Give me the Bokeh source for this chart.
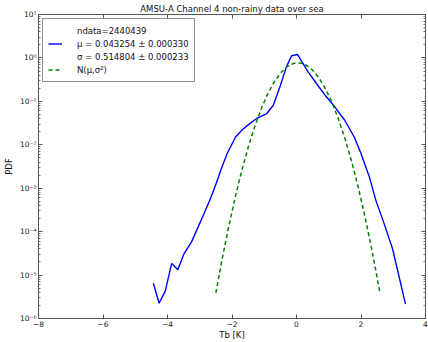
from bokeh.plotting import figure
from bokeh.models import (LogAxis, LinearAxis, FixedTicker, SingleIntervalTicker,
                          CustomJSTickFormatter, Legend, LegendItem, Title)
from bokeh.embed import file_html
from bokeh.resources import INLINE

# Observed histogram PDF (blue)
tb_obs = [-4.44, -4.26, -4.07, -3.87, -3.68, -3.49, -3.25, -2.87, -2.67, -2.51,
          -2.31, -2.15, -1.89, -1.69, -1.48, -1.23, -0.92, -0.72, -0.51, -0.31,
          -0.15, 0.03, 0.36, 0.67, 0.92, 1.18, 1.49, 1.79, 2.00, 2.26,
          2.46, 2.72, 2.98, 3.38]
pdf_obs = [6.46e-6, 2.24e-6, 4.27e-6, 1.86e-5, 1.32e-5, 3.09e-5, 5.89e-5, 2.57e-4, 5.75e-4, 1.17e-3,
           3.09e-3, 6.31e-3, 0.0151, 0.0219, 0.0295, 0.0407, 0.0525, 0.0813, 0.219, 0.631,
           1.12, 1.20, 0.479, 0.229, 0.129, 0.0759, 0.0372, 0.0151, 6.31e-3, 1.82e-3,
           5.25e-4, 1.51e-4, 3.98e-5, 2.14e-6]

# Fitted normal N(mu, sigma^2) (green dashed)
tb_fit = [-2.5, -2.3, -2.1, -1.9, -1.7, -1.5, -1.3, -1.1, -0.9, -0.7, -0.5, -0.3, -0.1,
          0.1, 0.3, 0.5, 0.7, 0.9, 1.1, 1.3, 1.5, 1.7, 1.9, 2.1, 2.3, 2.5, 2.58]
pdf_fit = [3.88e-6, 2.45e-5, 1.33e-4, 6.24e-4, 2.51e-3, 8.66e-3, 2.57e-2, 6.58e-2, 0.1445, 0.2733,
           0.4440, 0.6203, 0.7456, 0.7703, 0.6843, 0.5229, 0.3434, 0.1941, 0.0943, 0.03937,
           0.01414, 4.37e-3, 1.16e-3, 2.65e-4, 5.20e-5, 8.79e-6, 4.13e-6]

y_major = [1e-6, 1e-5, 1e-4, 1e-3, 1e-2, 1e-1, 1e0, 1e1]
y_minor = [m * 10.0 ** e for e in range(-6, 1) for m in range(2, 10)]

label_ndata = "ndata=2440439"
label_mu = "μ = 0.043254 ± 0.000330"
label_sigma = "σ = 0.514804 ± 0.000233"
label_norm = "N(μ,σ²)"

FONT = "DejaVu Sans"

p = figure(width=428, height=342, y_axis_type="log", x_range=(-8, 4), y_range=(1e-6, 10),
           output_backend="svg", toolbar_location=None,
           min_border_left=2, min_border_right=3, min_border_top=4, min_border_bottom=0)
p.background_fill_color = "white"
p.border_fill_color = "white"
p.outline_line_color = "#555555"
p.xgrid.visible = False
p.ygrid.visible = False

sup_code = """
const sup = {"-":"\u207b","0":"\u2070","1":"\u00b9","2":"\u00b2","3":"\u00b3","4":"\u2074",
             "5":"\u2075","6":"\u2076","7":"\u2077","8":"\u2078","9":"\u2079"};
const e = Math.round(Math.log10(tick));
return "10" + String(e).split("").map(c => sup[c]).join("");
"""

def style_axis(ax):
    ax.axis_line_color = "#555555"
    ax.major_tick_in = 4
    ax.major_tick_out = 0
    ax.minor_tick_in = 2
    ax.minor_tick_out = 0
    ax.major_tick_line_color = "#555555"
    ax.minor_tick_line_color = "#777777"
    ax.major_label_text_font = FONT
    ax.major_label_text_color = "#222222"
    ax.major_label_text_font_size = "7.5px"
    ax.major_label_standoff = 2
    ax.axis_label_text_font = FONT
    ax.axis_label_text_font_style = "normal"
    ax.axis_label_text_font_size = "8.5px"
    ax.axis_label_text_color = "#111111"

# bottom x axis
xa = p.xaxis[0]
xa.ticker = SingleIntervalTicker(interval=2, num_minor_ticks=0)
xa.axis_label = "Tb [K]"
style_axis(xa)
xa.axis_label_standoff = 0

# left y axis
ya = p.yaxis[0]
ya.ticker = FixedTicker(ticks=y_major, minor_ticks=y_minor)
ya.formatter = CustomJSTickFormatter(code=sup_code)
ya.axis_label = "PDF"
style_axis(ya)
ya.axis_label_standoff = 3

# right and top axes: ticks only
ra = LogAxis(ticker=FixedTicker(ticks=y_major, minor_ticks=y_minor))
style_axis(ra)
ra.major_label_text_alpha = 0
ra.major_label_standoff = 0
ra.major_label_text_font_size = "1px"
p.add_layout(ra, "right")
ta = LinearAxis(ticker=SingleIntervalTicker(interval=2, num_minor_ticks=0))
style_axis(ta)
ta.major_label_text_alpha = 0
ta.major_label_standoff = 0
ta.major_label_text_font_size = "1px"
p.add_layout(ta, "above")

p.add_layout(Title(text="AMSU-A Channel 4 non-rainy data over sea", align="center",
                   text_font=FONT, text_font_size="8.5px", text_font_style="normal",
                   text_color="#111111", standoff=2), "above")

r_obs = p.line(tb_obs, pdf_obs, line_color="#0000ff", line_width=1.4)
r_fit = p.line(tb_fit, pdf_fit, line_color="#008000", line_width=1.5, line_dash="4 3")
r_blank = p.line(tb_obs, pdf_obs, line_alpha=0)

legend = Legend(items=[
    LegendItem(label=label_ndata, renderers=[r_blank]),
    LegendItem(label=label_mu, renderers=[r_obs]),
    LegendItem(label=label_sigma, renderers=[r_blank]),
    LegendItem(label=label_norm, renderers=[r_fit]),
], location="top_left")
legend.label_text_font = FONT
legend.label_text_font_size = "8.5px"
legend.label_text_color = "#111111"
legend.label_height = 13
legend.glyph_height = 13
legend.glyph_width = 14
legend.label_standoff = 15
legend.spacing = 0
legend.padding = 5
legend.margin = 4
legend.border_line_color = "#222222"
legend.border_line_width = 1
legend.background_fill_color = "white"
legend.background_fill_alpha = 1
p.add_layout(legend)

open("out.html", "w").write(file_html(p, INLINE))
